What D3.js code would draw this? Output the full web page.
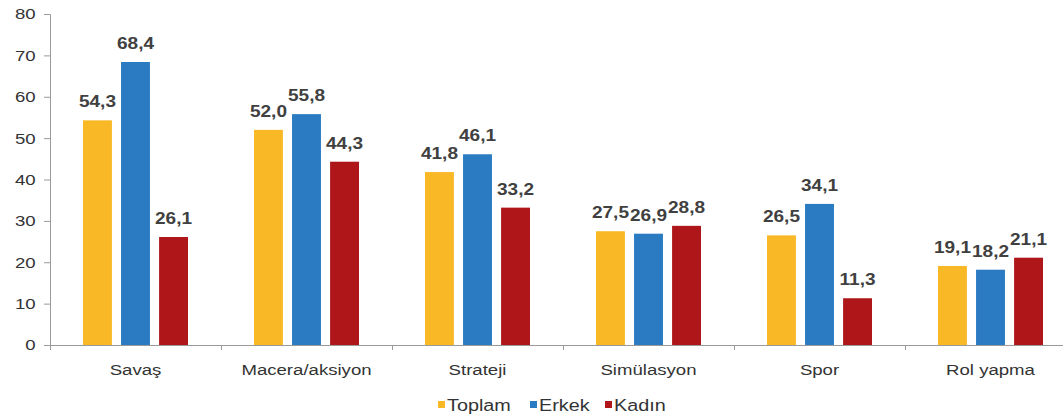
<!DOCTYPE html>
<html>
<head>
<meta charset="utf-8">
<script src="https://cdn.jsdelivr.net/npm/d3@7"></script>
<style>
  body { margin: 0; background: #fff; }
  svg text { font-family: "Liberation Sans", Arial, sans-serif; fill: #333; }
</style>
</head>
<body>
<div id="chart"></div>
<script>
// data
const categories = ["Savaş", "Macera/aksiyon", "Strateji", "Simülasyon", "Spor", "Rol yapma"];
const seriesNames = ["Toplam", "Erkek", "Kadın"];
const toplam = [54.3, 52.0, 41.8, 27.5, 26.5, 19.1];
const erkek = [68.4, 55.8, 46.1, 26.9, 34.1, 18.2];
const kadin = [26.1, 44.3, 33.2, 28.8, 11.3, 21.1];
const yTicks = [0, 10, 20, 30, 40, 50, 60, 70, 80];

const colors = ["#F9B927", "#2A7BC2", "#AE161A"];
const seriesVals = [toplam, erkek, kadin];

const width = 1063, height = 418;
const stretch = 1.2; // reference text looks horizontally widened

const svg = d3.select("#chart").append("svg")
    .attr("width", width)
    .attr("height", height);

const x0 = d3.scaleBand().domain(categories).range([50, 1076]).padding(0);
const x1 = d3.scaleBand().domain(seriesNames).range([33, 138]).paddingInner(0.24).paddingOuter(0);
const y = d3.scaleLinear().domain([0, 80]).range([345, 14]);

function fmt(v) {
    return v.toFixed(1).replace(".", ",");
}

// y axis
const yAxis = svg.append("g")
    .attr("transform", "translate(50,0)")
    .call(d3.axisLeft(y).tickValues(yTicks).tickSize(6).tickPadding(6));
yAxis.select(".domain").attr("stroke", "#9a9a9a");
yAxis.selectAll(".tick line").attr("stroke", "#9a9a9a");
yAxis.selectAll(".tick text")
    .attr("font-size", "15.5px")
    .attr("transform", "scale(" + stretch + ",1)");

// x axis
const xAxis = svg.append("g")
    .attr("transform", "translate(0,345)")
    .call(d3.axisBottom(x0).tickSize(0).tickPadding(19));
xAxis.select(".domain").attr("stroke", "#9a9a9a");
xAxis.selectAll(".tick text")
    .attr("font-size", "15.5px")
    .attr("transform", "scale(" + stretch + ",1)");

// ticks between groups
svg.append("g").selectAll("line")
    .data(categories)
    .enter().append("line")
    .attr("x1", d => x0(d) + 0.5)
    .attr("x2", d => x0(d) + 0.5)
    .attr("y1", 345)
    .attr("y2", 350)
    .attr("stroke", "#9a9a9a");

// bars
const groups = svg.append("g").selectAll("g")
    .data(categories)
    .enter().append("g")
    .attr("transform", d => "translate(" + x0(d) + ",0)");

groups.each(function (cat, ci) {
    const g = d3.select(this);
    seriesNames.forEach(function (s, si) {
        const v = seriesVals[si][ci];
        g.append("rect")
            .attr("x", x1(s))
            .attr("y", y(v))
            .attr("width", x1.bandwidth())
            .attr("height", y(0) - y(v))
            .attr("fill", colors[si]);
        g.append("text")
            .attr("transform", "translate(" + (x1(s) + x1.bandwidth() / 2) + "," + (y(v) - 13) + ") scale(1.12,1)")
            .attr("text-anchor", "middle")
            .attr("font-size", "17px")
            .attr("font-weight", "bold")
            .style("fill", "#404040")
            .text(fmt(v));
    });
});

// legend
const legendX = [438, 530, 605];
const legend = svg.append("g").selectAll("g")
    .data(seriesNames)
    .enter().append("g")
    .attr("transform", (d, i) => "translate(" + legendX[i] + ",401)");
legend.append("rect")
    .attr("width", 7)
    .attr("height", 7)
    .attr("fill", (d, i) => colors[i]);
legend.append("text")
    .attr("transform", "translate(9,9.5) scale(" + stretch + ",1)")
    .attr("font-size", "16.5px")
    .text(d => d);
</script>
</body>
</html>
